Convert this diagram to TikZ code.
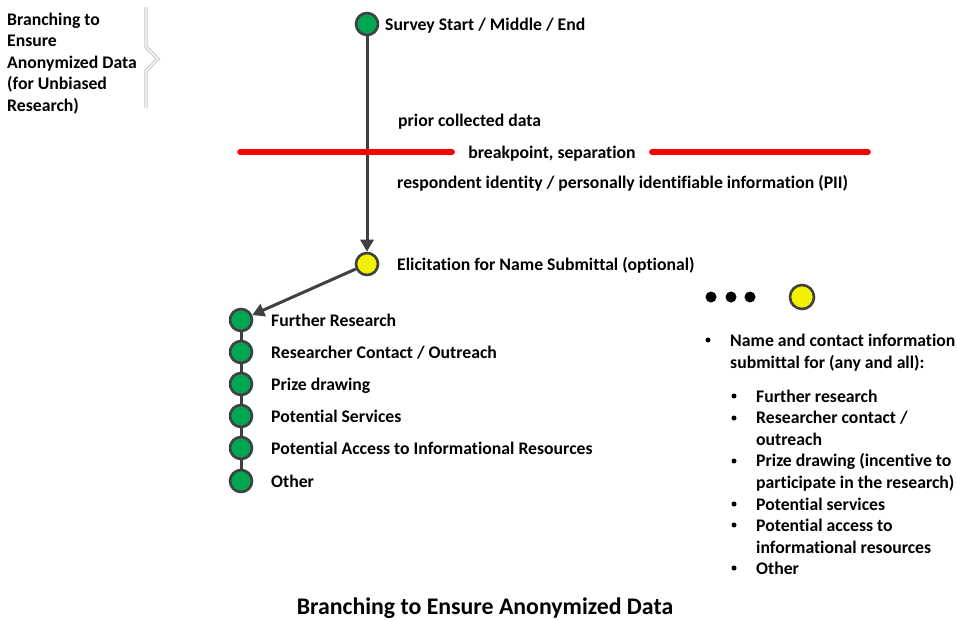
\documentclass[tikz,border=0pt]{standalone}
\usepackage{fontspec}
\setmainfont{Carlito}[Ligatures=NoCommon]
\usetikzlibrary{arrows.meta,shadows}
\definecolor{edgec}{HTML}{404040}
\definecolor{grn}{HTML}{00A651}
\definecolor{ylw}{HTML}{F2F200}
\definecolor{redl}{HTML}{FF0000}
\begin{document}
\begin{tikzpicture}[x=1pt,y=-1pt,
  lbl/.style={font=\bfseries\fontsize{17.7}{21.5}\selectfont, anchor=base west, inner sep=0pt, align=left},
  ball/.style={circle, draw=edgec, line width=2.6pt, minimum size=22pt, inner sep=0pt,
    drop shadow={opacity=0.25, shadow xshift=1.2pt, shadow yshift=-1.2pt}},
  gball/.style={ball, fill=grn},
  yball/.style={ball, fill=ylw},
  bigdot/.style={circle, fill=black, minimum size=11pt, inner sep=0pt},
  smalldot/.style={circle, fill=black, minimum size=5pt, inner sep=0pt},
  conn/.style={draw=edgec, line width=3pt, -{Triangle[length=12pt,width=13pt]}},
  chain/.style={draw=edgec, line width=3pt},
  redline/.style={draw=redl, line width=5.5pt, line cap=round}
]
\useasboundingbox (0,0) rectangle (957,619);

% top-left title and chevron (multi-line nodes: base = last line)
\node[lbl] (ttl) at (7,111) {Branching to\\Ensure\\Anonymized Data\\(for Unbiased\\Research)};
\coordinate (c1) at (146,7);
\coordinate (c2) at (146,47);
\coordinate (c3) at (158,59);
\coordinate (c4) at (146,71);
\coordinate (c5) at (146,108);
\draw[draw=gray!45, double=white, double distance=1.2pt, line width=1pt, line join=miter]
  (c1) -- (c2) -- (c3) -- (c4) -- (c5);

% main vertical flow
\node[gball] (s) at (367,24) {};
\node[lbl] (sl) at (385,30) {Survey Start / Middle / End};
\node[yball] (y) at (367,264) {};
\node[lbl] (yl) at (397,270) {Elicitation for Name Submittal (optional)};
\draw[conn] (s) -- (y);

% breakpoint
\node[lbl] (prior) at (398,126) {prior collected data};
\node[lbl, anchor=base, inner xsep=16pt] (bp) at (552,158) {breakpoint, separation};
\coordinate (rl) at (240,152);
\coordinate (rr) at (868,152);
\draw[redline] (rl) -- (rl -| bp.west);
\draw[redline] (rr -| bp.east) -- (rr);
\node[lbl] (pii) at (397,188) {respondent identity / personally identifiable information (PII)};

% green chain
\node[gball] (g1) at (241,320) {};
\node[gball] (g2) at (241,352) {};
\node[gball] (g3) at (241,384) {};
\node[gball] (g4) at (241,416) {};
\node[gball] (g5) at (241,448) {};
\node[gball] (g6) at (241,481) {};
\draw[chain] (g1) -- (g2);
\draw[chain] (g2) -- (g3);
\draw[chain] (g3) -- (g4);
\draw[chain] (g4) -- (g5);
\draw[chain] (g5) -- (g6);
\draw[conn] (y) -- (g1);
\node[lbl] (l1) at (271,326) {Further Research};
\node[lbl] (l2) at (271,358) {Researcher Contact / Outreach};
\node[lbl] (l3) at (271,390) {Prize drawing};
\node[lbl] (l4) at (271,422) {Potential Services};
\node[lbl] (l5) at (271,454) {Potential Access to Informational Resources};
\node[lbl] (l6) at (271,487) {Other};

% legend on the right
\node[bigdot] (d1) at (711,297) {};
\node[bigdot] (d2) at (731,297) {};
\node[bigdot] (d3) at (750,297) {};
\node[yball, minimum size=24pt] (y2) at (802,297) {};

\node[smalldot] (b0) at (708,340) {};
\node[lbl] (t0) at (730,368) {Name and contact information\\submittal for (any and all):};
\node[smalldot] (b1) at (734,396) {};
\node[lbl] (t1) at (756,402) {Further research};
\node[smalldot] (b2) at (734,418) {};
\node[lbl] (t2) at (756,445) {Researcher contact /\\outreach};
\node[smalldot] (b3) at (734,461) {};
\node[lbl] (t3) at (756,488) {Prize drawing (incentive to\\participate in the research)};
\node[smalldot] (b4) at (734,504) {};
\node[lbl] (t4) at (756,510) {Potential services};
\node[smalldot] (b5) at (734,525) {};
\node[lbl] (t5) at (756,553) {Potential access to\\informational resources};
\node[smalldot] (b6) at (734,568) {};
\node[lbl] (t6) at (756,574) {Other};

% caption
\node[lbl, anchor=base, font=\bfseries\fontsize{23.8}{28}\selectfont] (cap) at (485,614) {Branching to Ensure Anonymized Data};
\end{tikzpicture}
\end{document}
